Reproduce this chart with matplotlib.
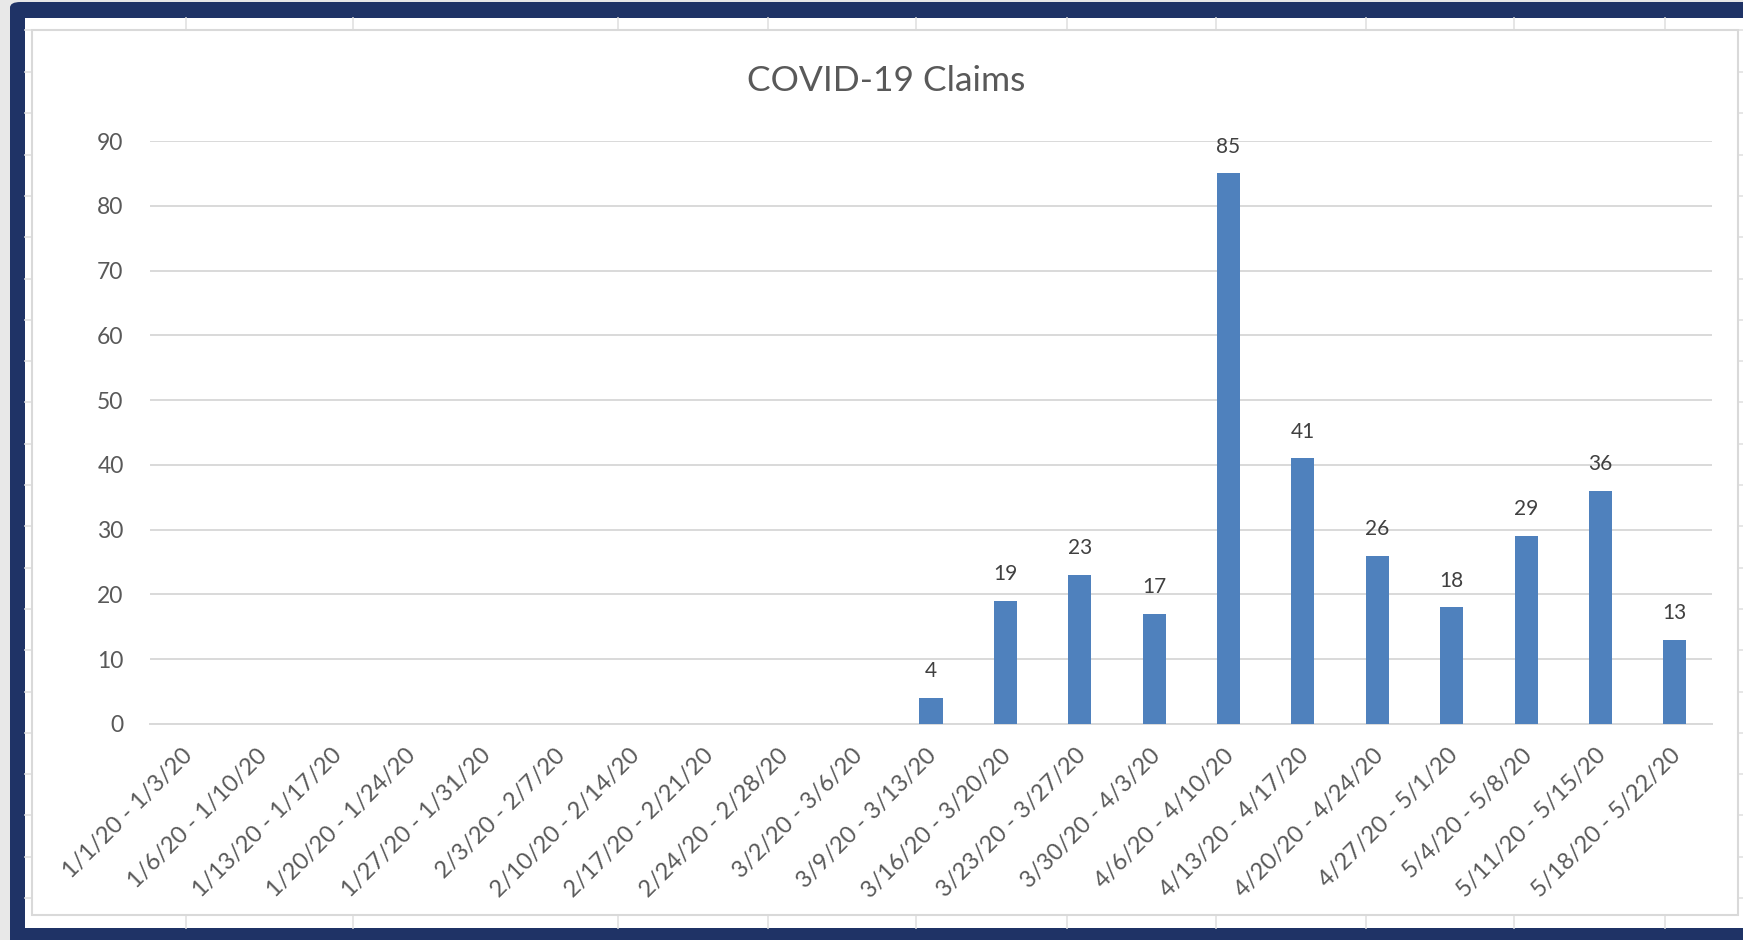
import matplotlib
matplotlib.use('Agg')
import matplotlib.pyplot as plt
from matplotlib.patches import Rectangle, FancyBboxPatch
from matplotlib.lines import Line2D
from matplotlib.transforms import ScaledTranslation
import numpy as np

plt.rcParams['font.family'] = ['Lato', 'DejaVu Sans']

W, H = 1743, 940

weeks = ['1/1/20 - 1/3/20', '1/6/20 - 1/10/20', '1/13/20 - 1/17/20', '1/20/20 - 1/24/20',
         '1/27/20 - 1/31/20', '2/3/20 - 2/7/20', '2/10/20 - 2/14/20', '2/17/20 - 2/21/20',
         '2/24/20 - 2/28/20', '3/2/20 - 3/6/20', '3/9/20 - 3/13/20', '3/16/20 - 3/20/20',
         '3/23/20 - 3/27/20', '3/30/20 - 4/3/20', '4/6/20 - 4/10/20', '4/13/20 - 4/17/20',
         '4/20/20 - 4/24/20', '4/27/20 - 5/1/20', '5/4/20 - 5/8/20', '5/11/20 - 5/15/20',
         '5/18/20 - 5/22/20']
claims = [0, 0, 0, 0, 0, 0, 0, 0, 0, 0, 4, 19, 23, 17, 85, 41, 26, 18, 29, 36, 13]
y_ticks = list(range(0, 100, 10))

# spreadsheet columns / rows seen behind the chart (pixel positions)
sheet_cols = [186, 353, 618, 768, 916, 1067, 1216, 1366, 1514, 1665]
sheet_rows = [72 + 41.3 * k for k in range(21)]


def box(x0, y0, x1, y1):
    # pixel box (top-left origin) -> figure fraction rect
    return (x0 / W, 1 - y1 / H), (x1 - x0) / W, (y1 - y0) / H


fig = plt.figure(figsize=(W / 100, H / 100), dpi=100, facecolor='#e8e8e8')

# navy frame around the screenshot
xy, w, h = box(10, 2, 1800, 1000)
fig.patches.append(FancyBboxPatch(xy, w, h, boxstyle='round,pad=0,rounding_size=0.006',
                                  transform=fig.transFigure, facecolor='#1f3366',
                                  edgecolor='none', zorder=0))
xy, w, h = box(25, 18, 1743, 928)
fig.patches.append(Rectangle(xy, w, h, transform=fig.transFigure, facecolor='white',
                             edgecolor='none', zorder=1))
for cx in sheet_cols:
    for (ya, yb) in [(18, 30), (915, 928)]:
        fig.lines.append(Line2D([cx / W, cx / W], [1 - ya / H, 1 - yb / H],
                                transform=fig.transFigure, color='#e2e2e2', lw=1.2, zorder=2))
for ry in sheet_rows:
    for (xa, xb) in [(25, 32), (1738, 1743)]:
        fig.lines.append(Line2D([xa / W, xb / W], [1 - ry / H, 1 - ry / H],
                                transform=fig.transFigure, color='#e2e2e2', lw=1.2, zorder=2))
fig.lines.append(Line2D([25 / W, 1743 / W], [1 - 30 / H, 1 - 30 / H],
                        transform=fig.transFigure, color='#e2e2e2', lw=1.2, zorder=2))

# chart area
xy, w, h = box(32, 30, 1738, 915)
fig.patches.append(Rectangle(xy, w, h, transform=fig.transFigure, facecolor='white',
                             edgecolor='#d9d9d9', lw=1.5, zorder=3))

# plot area
xy, w, h = box(150, 141, 1712, 724)
ax = fig.add_axes([xy[0], xy[1], w, h], zorder=5)
ax.patch.set_alpha(0)

x = np.arange(len(weeks))
bars = ax.bar(x, claims, width=0.31, color='#4f81bd', zorder=3)
for xi, v in zip(x, claims):
    if v > 0:
        ax.annotate(str(v), (xi, v), xytext=(0, 12), textcoords='offset points',
                    ha='center', va='bottom', fontsize=15, color='#404040')

ax.set_xlim(-0.5, len(weeks) - 0.5)
ax.set_ylim(0, 90)
ax.set_yticks(y_ticks)
ax.set_yticklabels([str(t) for t in y_ticks], fontsize=16.5, color='#595959')
ax.yaxis.grid(True, color='#d9d9d9', lw=1.4)
ax.set_axisbelow(True)
ax.tick_params(axis='y', length=0, pad=19)
ax.tick_params(axis='x', length=0, pad=15)
ax.set_xticks(x)
ax.set_xticklabels(weeks, rotation=45, ha='right', va='top', rotation_mode='anchor',
                   fontsize=17, color='#595959')
shift = ScaledTranslation(-5 / 100, 0, fig.dpi_scale_trans)
for lbl in ax.get_xticklabels():
    lbl.set_transform(lbl.get_transform() + shift)
for s in ['top', 'left', 'right']:
    ax.spines[s].set_visible(False)
ax.spines['bottom'].set_color('#d9d9d9')
ax.spines['bottom'].set_linewidth(1.4)

fig.text(886 / W, 1 - 81 / H, 'COVID-19 Claims', ha='center', va='center',
         fontsize=25.5, color='#595959')

fig.savefig('out.png', dpi=100, facecolor=fig.get_facecolor())
